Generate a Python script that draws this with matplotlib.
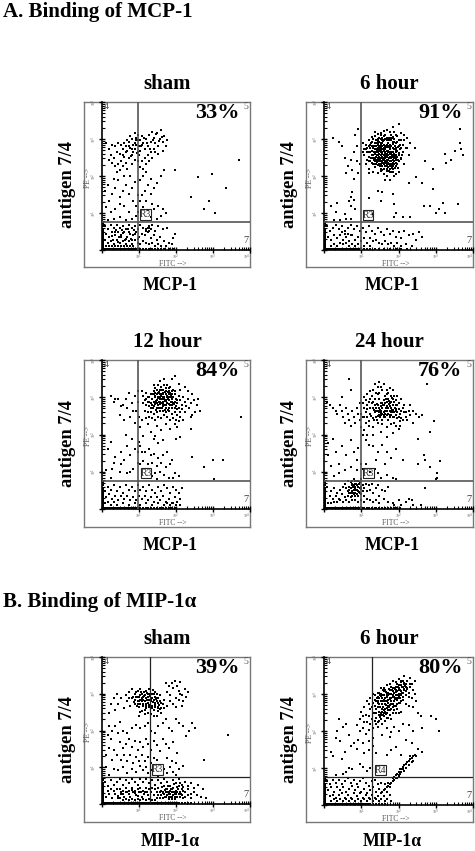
#!/usr/bin/env python3

import numpy as np
import matplotlib
matplotlib.use("Agg")
import matplotlib.pyplot as plt
from matplotlib.patches import Rectangle

plt.rcParams['font.family'] = ['Liberation Serif', 'DejaVu Serif']

W, H = 475, 851

# events, in display channels (0-100 on each axis)
mcp_sham = [
    (3,72),(5,68),(7,71),(9,70),(11,72),(13,71),(6,64),(8,62),(10,66),(12,65),(14,68),(16,70),(18,73),(20,75),(17,67),(19,69),
    (21,71),(23,74),(22,68),(15,63),(13,60),(11,58),(9,57),(7,59),(5,61),(16,59),(18,62),(20,64),(22,61),(24,66),(25,70),(26,74),
    (24,78),(22,79),(23,76),(27,77),(28,72),(29,68),(30,75),(31,70),(32,78),(33,73),(34,80),(35,76),(36,72),(37,79),(38,70),(39,75),
    (40,81),(41,73),(42,77),(43,70),(44,74),(35,68),(33,66),(31,64),(29,62),(27,60),(26,56),(28,55),(30,58),(34,62),(38,65),(41,67),
    (19,77),(17,74),(15,72),(21,66),(14,57),(12,54),(10,53),(17,55),(20,58),(25,64),(24,60),(26,67),(27,71),(25,74),(23,71),(36,66),
    (32,60),(30,53),(33,48),(28,50),(26,47),(31,44),(35,42),(29,40),(27,37),(33,38),(37,45),(40,50),(42,54),(26,33),(30,33),(34,31),
    (28,29),(31,27),(35,28),(38,30),(41,28),(43,25),(40,23),(37,21),(33,22),(22,46),(20,42),(18,38),(16,44),(14,40),(12,36),(9,42),
    (7,38),(5,33),(3,29),(6,26),(9,28),(12,31),(15,30),(18,26),(21,33),(23,30),(4,44),(2,40),(8,48),(11,47),(15,50),(19,50),(23,23),
    (20,21),(16,20),(12,22),(8,21),(4,20),(24,37),(24,26),
    (2,16),(4,14),(6,17),(8,15),(10,17),(12,15),(14,16),(16,14),(18,17),(20,15),(22,16),(24,14),(26,17),(28,15),(30,14),(32,16),
    (34,17),(36,13),(38,16),(41,14),(44,15),(3,11),(5,9),(7,12),(9,10),(11,12),(13,10),(15,12),(17,9),(19,11),(21,10),(23,12),
    (25,9),(27,11),(29,10),(31,12),(33,8),(35,10),(37,7),(39,9),(42,6),(45,5),(48,8),(2,7),(4,5),(6,6),(8,4),(10,7),(12,5),
    (14,6),(16,4),(18,6),(20,4),(22,7),(24,5),(26,4),(28,6),(30,5),(32,4),(34,5),(36,3),(38,4),(40,3),(43,3),(47,4),(3,3),(5,2.5),
    (7,3),(9,2.5),(11,3),(13,2.5),(15,3),(17,2.5),(19,3),(21,2.5),(30,13),(31,15),(32,13),(33,14),(32,15),(49,11),
    (92.5,61),(49,54),(65,49),(74,51.5),(84,42),(60,36),(72.5,33),(69,28),(76.5,25),
    # in between, the same two crowds
    (18.5,70.5),(20.5,68.5),(22.5,72.5),(24.5,74.5),(26.5,70.5),(16.5,66.5),(14.5,64.5),(19.5,63.5),(23.5,65.5),(28.5,75.5),(30.5,72.5),
    (32.5,68.5),(34.5,74.5),(36.5,78.5),(38.5,73.5),(40.5,76.5),(6.5,9.5),(8.5,12.5),(10.5,5.5),(12.5,8.5),(14.5,11.5),(16.5,7.5),
    (18.5,12.5),(20.5,6.5),(22.5,10.5),(24.5,7.5),(7.5,6.5),(9.5,13.5),(11.5,8.5),(13.5,13.5),(15.5,6.5),(17.5,14.5),(19.5,7.5),(21.5,13.5),
]
mcp_6h = [
    (26,72),(28,68),(30,74),(32,70),(34,77),(36,72),(38,79),(40,74),(42,81),(44,76),(46,83),(48,78),(50,85),(52,79),(54,74),(56,76),
    (58,72),(27,64),(29,61),(31,66),(33,62),(35,68),(37,63),(39,70),(41,65),(43,72),(45,66),(47,73),(49,67),(51,71),(53,66),(55,69),
    (57,64),(28,58),(30,55),(32,59),(34,56),(36,61),(38,57),(40,62),(42,58),(44,63),(46,59),(48,64),(50,60),(52,62),(54,58),(30,52),
    (33,53),(36,52),(39,54),(42,50),(45,53),(47,50),(50,53),(41,47),(44,47),(35,66),(36,66),(37,67),(38,66),(39,66),(40,67),(41,68),
    (42,67),(43,67),(44,68),(36,69),(37,70),(38,71),(39,72),(40,71),(41,70),(42,71),(43,70),(44,71),(45,70),(46,69),(47,68),(48,69),
    (35,63),(36,64),(37,65),(38,62),(39,63),(40,64),(41,62),(42,63),(43,64),(44,60),(45,62),(46,63),(47,62),(48,61),(36,60),(37,60),
    (38,60),(39,60),(40,59),(41,60),(42,60),(43,61),(44,58),(45,60),(46,57),(47,58),(48,57),(38,55),(40,55),(42,55),(44,55),(46,55),
    (39,57),(41,57),(43,56),(34,60),(33,64),(32,67),(31,69),(30,63),(29,66),(28,71),(32,73),(33,75),(34,72),(35,74),(36,75),(37,73),
    (38,75),(39,76),(40,77),(41,75),(42,76),(43,74),(44,74),(45,74),(46,73),(47,75),(48,72),(49,73),(50,74),(51,68),(52,69),(53,71),
    (35,70),(36,71),(37,68),(38,69),(39,68),(40,69),(41,66),(42,65),(43,66),(44,65),(45,65),(46,66),(47,65),(48,66),(49,63),(50,64),
    (34,65),(35,61),(36,62),(37,62),(38,64),(39,65),(40,61),(41,63),(42,61),(43,59),(44,62),(45,57),(46,61),(47,60),(48,59),(49,58),
    (37,58),(38,58),(39,59),(40,58),(41,59),(42,57),(43,58),(44,57),(45,58),(46,58),(35,58),(34,58),(33,58),(32,62),(31,60),(30,60),
    (52,74),(54,78),(56,69),(49,77),(47,80),(45,78),(43,76),(41,78),(39,74),(37,76),(35,72),(33,69),(31,71),(29,69),(27,68),(26,66),
    (22,70),(20,66),(18,61),(16,57),(14,62),(12,70),(10,73),(6,76),(21,78),(23,82),(22,60),(19,54),(15,52),(24,58),(23,52),(20,48),
    (19,39),(18,36),(20,34),(18,30),(21,28),(17,33),(9,32),(8,26),(5,30),(14,24),(11,20),(7,20),(15,21),(18,21),(30,35),(36,40),(39,39),
    (46,38),(47,31),(38,33),(48,25),(47,22),(33,24),(53,22),(58,22),(57,45),(62,49),(66,45),(73,41),(67,30),(80,32),(77,28),(81,25),(75,25),
    (71,30),(90,31),(88,67),(92,68),(91,72),(93,64),(85,61),(81,65),(68,60),(73,55),(61,69),(82,59),(91,82),
    (2,16),(4,13),(6,15),(8,17),(10,14),(12,16),(14,13),(16,15),(18,17),(20,14),(22,16),(24,13),(26,15),(28,12),(30,16),(32,13),(34,11),
    (36,15),(38,12),(40,10),(42,14),(44,11),(46,13),(48,9),(50,12),(52,8),(54,13),(57,10),(60,11),(62,7),(64,12),(66,9),(3,9),(5,7),
    (7,10),(9,8),(11,10),(13,7),(15,9),(17,6),(19,10),(21,7),(23,9),(25,6),(27,8),(29,5),(31,8),(33,6),(35,7),(37,5),(39,4),(41,6),
    (43,4),(45,5),(47,3),(49,5),(52,3),(55,4),(59,3),(12,12),(14,11),(16,11),(18,10),(15,5),(13,4),(11,5),(9,3),(7,4),(5,3),(17,3),
    (19,4),(21,3),(23,4),(27,2.5),(31,3),
    # the dark core of the cluster
    (30.5,66.5),(31.5,72.5),(32.5,64.5),(33.5,70.5),(34.5,62.5),(35.5,67.5),(36.5,73.5),(37.5,61.5),(38.5,67.5),(39.5,73.5),(40.5,62.5),
    (41.5,69.5),(42.5,74.5),(43.5,62.5),(44.5,69.5),(45.5,75.5),(46.5,64.5),(47.5,70.5),(48.5,62.5),(49.5,69.5),(50.5,65.5),(51.5,61.5),
    (33.5,60.5),(35.5,59.5),(37.5,56.5),(39.5,61.5),(41.5,58.5),(43.5,53.5),(45.5,55.5),(47.5,55.5),(49.5,55.5),(34.5,68.5),(36.5,67.5),
    (38.5,72.5),(40.5,68.5),(42.5,69.5),(44.5,66.5),(46.5,71.5),(48.5,67.5),(50.5,70.5),(52.5,64.5),(31.5,62.5),(33.5,66.5),(35.5,64.5),
    (37.5,69.5),(39.5,62.5),(41.5,64.5),(43.5,69.5),(45.5,63.5),(47.5,63.5),(49.5,60.5),(36.5,57.5),(38.5,53.5),(40.5,51.5),(42.5,53.5),
    (44.5,52.5),(46.5,52.5),(48.5,51.5),(30.5,70.5),(32.5,76.5),(34.5,79.5),(36.5,78.5),(38.5,77.5),(40.5,80.5),(44.5,79.5),(46.5,76.5),
]
mcp_12h = [
    (8,72),(6,76),(11,74),(14,70),(16,74),(18,78),(20,71),(22,76),(13,69),(17,68),(21,66),(24,72),(24,79),(23,66),(25,62),
    (27,79),(28,76),(29,73),(30,78),(31,75),(32,72),(33,77),(34,74),(35,79),(36,76),(37,73),(38,78),(39,75),(40,80),(41,77),(42,74),
    (43,79),(44,76),(45,81),(46,78),(47,75),(48,80),(49,77),(50,74),(51,71),(52,76),(53,73),(54,70),(55,75),(56,72),(57,69),(58,74),
    (59,68),(60,71),(62,73),(64,70),(66,66),(63,65),(61,63),(28,71),(30,70),(32,69),(34,70),(36,71),(38,70),(40,71),(42,70),(44,71),
    (46,70),(48,71),(50,69),(52,68),(54,67),(56,65),(35,77),(37,77),(39,77),(41,78),(43,77),(45,77),(47,77),(36,78),(38,75),(40,76),
    (42,75),(44,75),(46,75),(48,75),(37,80),(39,80),(41,80),(43,81),(45,79),(47,79),(49,79),(40,82),(42,83),(44,83),(46,82),(38,83),
    (36,81),(34,77),(32,75),(30,74),(31,72),(33,71),(35,72),(37,71),(39,72),(41,72),(43,73),(45,73),(47,72),(49,72),(51,73),(33,68),
    (35,69),(37,68),(39,68),(41,69),(43,68),(45,68),(47,68),(49,68),(51,67),(53,65),(29,66),(31,65),(33,65),(35,64),(37,65),(39,66),
    (41,66),(43,65),(45,66),(47,64),(49,65),(51,63),(53,62),(30,61),(32,62),(34,61),(36,60),(38,62),(40,61),(42,63),(44,62),(46,60),
    (48,61),(50,60),(52,59),(27,60),(31,57),(37,56),(43,57),(49,57),(55,60),(60,62),(65,74),(56,82),(52,84),(47,87),(42,87),(49,89),
    (58,79),(53,80),(61,77),(39,86),(35,83),(22,58),(19,62),(15,60),(12,63),(9,74),(26,55),(33,52),(28,49),(36,49),(40,53),(46,54),
    (38,44),(41,46),(35,47),(51,55),(50,47),(53,48),(60,54),(94,62),(82,33),(75,33),(69,28),(61,35),(76,20),(20,47),(25,45),(16,50),
    (22,40),(19,36),(17,42),(13,38),(9,35),(6,45),(4,40),(8,31),(13,30),(7,27),(3,26),(17,24),(19,25),(21,27),(12,25),(6,21),(15,33),
    (24,31),(24,38),(26,42),(29,38),(32,40),(35,37),(38,34),(41,36),(44,38),(47,33),(28,32),(31,30),(34,31),(37,29),(40,31),(43,28),
    (46,30),(49,24),(36,24),(39,25),(42,23),(45,21),(48,21),(52,22),(26,30),(34,22),(37,20),(27,38),(33,36),
    (2,12),(4,15),(6,13),(8,16),(10,12),(12,15),(14,11),(16,16),(18,13),(20,15),(22,12),(24,16),(26,13),(28,15),(30,12),(32,16),(34,13),
    (36,11),(38,15),(40,12),(42,16),(44,14),(46,11),(48,15),(50,13),(52,11),(54,14),(3,8),(5,10),(7,7),(9,9),(11,6),(13,9),(15,7),(17,9),
    (19,6),(21,8),(23,6),(25,9),(27,7),(29,9),(31,6),(33,8),(35,5),(37,8),(39,6),(41,9),(43,5),(45,7),(47,4),(49,8),(51,5),(53,7),
    (2,4),(4,5),(6,3),(8,5),(10,3),(14,4),(18,3),(22,4),(26,3),(30,4),(34,3),(38,4),(42,3),(44,4),(46,3),(48,4),(50,3),(53,3),
    # the dark core of the cluster
    (33.5,73.5),(35.5,75.5),(37.5,74.5),(39.5,73.5),(41.5,75.5),(43.5,72.5),(45.5,75.5),(47.5,73.5),(38.5,78.5),(40.5,77.5),(42.5,78.5),
    (44.5,78.5),(46.5,76.5),(36.5,72.5),(38.5,71.5),(40.5,73.5),(42.5,72.5),(44.5,73.5),(46.5,71.5),(48.5,70.5),(35.5,70.5),(37.5,69.5),
    (39.5,70.5),(41.5,70.5),(43.5,69.5),(45.5,70.5),(47.5,69.5),(34.5,67.5),(36.5,66.5),(38.5,67.5),(40.5,67.5),(42.5,66.5),(44.5,66.5),
]
mcp_24h = [
    (2,72),(4,70),(6,68),(8,66),(9,64),(11,70),(12,66),(13,62),(14,58),(15,68),(16,64),(17,60),(18,56),(19,66),(20,62),(21,58),(22,68),
    (23,64),(24,60),(24,71),(12,75),(17,87),(18,80),(26,71),(27,68),(28,65),(29,62),(30,59),(31,74),(32,71),(33,68),(34,65),(35,62),
    (36,77),(37,74),(38,71),(39,68),(40,65),(41,62),(42,77),(43,74),(44,71),(45,68),(46,65),(47,62),(48,73),(49,70),(50,67),(51,64),
    (52,61),(53,68),(54,65),(55,62),(56,60),(57,66),(58,63),(60,66),(62,64),(64,62),(28,73),(30,72),(32,76),(34,74),(36,70),(38,66),
    (40,70),(42,69),(44,66),(46,70),(48,67),(50,71),(52,66),(54,70),(27,62),(29,67),(31,64),(33,61),(35,66),(37,63),(39,60),(41,66),
    (43,60),(45,63),(47,58),(49,61),(51,59),(53,60),(55,65),(28,58),(30,56),(33,55),(36,58),(39,57),(42,55),(45,57),(48,56),(51,56),
    (37,68),(38,69),(39,71),(40,73),(41,71),(42,72),(43,68),(44,69),(45,72),(46,74),(47,72),(48,70),(36,66),(37,65),(38,63),(39,64),
    (40,63),(41,64),(42,63),(43,64),(44,63),(45,65),(46,62),(47,65),(48,63),(49,65),(50,62),(34,70),(35,68),(33,72),(31,68),(29,70),
    (26,62),(25,64),(27,75),(29,77),(31,79),(33,80),(35,78),(37,78),(39,80),(41,76),(43,78),(45,76),(47,76),(36,82),(38,82),(40,84),
    (42,80),(44,81),(37,85),(34,84),(46,80),(49,76),(52,74),(25,55),(27,53),(26,50),(29,50),(28,46),(33,50),(38,52),(42,48),(46,51),
    (58,70),(60,58),(71,52),(69,84),(74,59),(66,63),(50,54),(30,43),(33,42),(36,38),(39,43),(35,33),(41,30),(42,38),(48,40),(45,34),
    (53,33),(63,47),(67,36),(68,33),(63,30),(71,28),(78,32),(76,24),(76,21),(75,20),(68,14),(59,6),(57,7),(6,47),(8,38),(3,44),(12,42),
    (15,36),(18,46),(20,38),(22,33),(10,30),(5,29),(14,26),(18,28),(22,26),(10,24),(7,22),(3,36),(23,41),(26,27),(28,30),(31,25),(34,27),
    (36,24),(38,21),(42,23),(46,21),(48,20),(25,30),
    (14,17),(16,19),(17,15),(18,18),(19,16),(20,20),(21,17),(22,19),(23,15),(24,18),(25,20),(22,16),(21,14),(20,13),(19,12),(18,14),(17,11),
    (21,11),(22,13),(23,12),(24,14),(25,15),(26,16),(20,16),(19,19),(18,11),(17,13),(16,12),(15,14),(22,10),(21,9),(20,10),(19,9),(18,8),
    (23,9),(24,11),(25,10),(26,12),(27,14),(28,17),(30,16),(29,12),(31,13),(33,11),(32,17),(27,9),(35,14),(37,9),(39,13),(41,12),(43,15),(36,16),
    (2,15),(5,12),(7,14),(9,11),(11,13),(13,15),(4,9),(6,7),(8,9),(10,7),(12,10),(14,8),(16,9),(15,6),(13,5),(11,6),(9,5),(7,5),(5,4),(3,4),
    (17,5),(19,6),(21,6),(23,5),(25,6),(27,5),(29,7),(31,6),(33,5),(35,6),(37,4),(40,7),(43,5),(46,4),(50,6),(55,5),(47,3),(52,3),(60,3),(65,3),
    # the two cores
    (33.5,66.5),(35.5,70.5),(37.5,66.5),(39.5,69.5),(41.5,67.5),(43.5,70.5),(45.5,66.5),(47.5,67.5),(36.5,62.5),(38.5,64.5),(40.5,61.5),
    (42.5,65.5),(44.5,61.5),(46.5,66.5),(48.5,65.5),(31.5,62.5),(33.5,59.5),(35.5,59.5),(37.5,61.5),(41.5,73.5),(43.5,72.5),(45.5,74.5),
    (20.5,14.5),(21.5,16.5),(22.5,14.5),(23.5,16.5),(19.5,14.5),(20.5,18.5),(22.5,18.5),(24.5,13.5),(18.5,16.5),(21.5,12.5),(23.5,11.5),(19.5,10.5),
]
mip_sham = [
    (10,75),(13,72),(11,68),(15,65),(17,70),(19,67),(21,73),(23,76),(24,70),(25,66),(26,74),(27,70),(28,67),(29,64),(30,72),(31,69),
    (32,75),(33,71),(34,67),(35,64),(36,73),(37,70),(38,66),(39,74),(40,62),(18,76),(20,78),(22,71),(24,77),(26,78),(28,73),(30,77),
    (32,78),(34,75),(36,76),(38,72),(40,69),(42,71),(44,76),(46,74),(48,79),(50,72),(52,77),(54,74),(56,78),(43,82),(45,80),(47,82),
    (49,84),(51,80),(53,75),(55,70),(46,70),(48,68),(50,66),(52,71),(54,67),(44,67),(42,65),(57,73),(53,83),(58,76),(22,68),(23,73),
    (25,70),(26,71),(27,72),(28,71),(29,70),(30,68),(31,73),(32,71),(33,70),(34,72),(35,71),(36,69),(37,72),(38,69),(39,70),(27,75),
    (29,74),(31,75),(33,75),(35,75),(37,75),(25,73),(24,68),(26,68),(28,68),(30,65),(32,66),(34,65),(36,66),(38,63),(40,65),(41,68),
    (33,61),(29,61),(27,63),(35,60),(37,60),(25,60),(31,62),(20,72),(18,72),(16,74),(8,72),(6,68),(5,62),(9,64),(12,56),(5,53),(7,50),
    (9,53),(4,47),(6,44),(11,48),(14,50),(17,48),(20,52),(23,54),(26,52),(29,53),(31,55),(33,50),(36,48),(38,53),(41,55),(43,58),(45,52),
    (47,50),(50,58),(52,55),(55,53),(59,50),(61,55),(63,52),(57,46),(85,47),(69,30),(12,42),(14,38),(16,41),(18,44),(20,39),(22,43),
    (24,37),(26,42),(28,39),(30,44),(31,41),(33,37),(35,43),(37,40),(39,36),(41,44),(43,41),(45,38),(48,42),(51,35),(8,37),(5,38),(3,33),
    (7,30),(10,33),(13,30),(15,33),(17,29),(19,33),(21,28),(23,32),(25,29),(27,33),(29,29),(31,32),(33,28),(35,31),(37,30),(44,31),(47,29),
    (50,28),(46,25),(48,22),(52,24),(55,26),(42,24),(8,24),(11,23),(14,25),(17,21),(20,24),(23,22),(26,26),(28,23),(30,25),(31,21),(33,23),
    (5,20),(3,25),(38,19),(44,21),(50,20),
    (2,15),(4,12),(6,16),(8,13),(10,15),(12,17),(14,13),(16,16),(18,14),(20,17),(22,15),(24,13),(26,17),(28,15),(30,17),(32,14),(34,16),(36,13),
    (38,16),(40,14),(42,17),(44,15),(46,12),(48,16),(50,14),(52,17),(54,13),(56,15),(58,12),(60,14),(62,11),(65,13),(68,10),(36,10),(38,11),(40,9),
    (42,12),(44,10),(46,9),(48,11),(50,9),(52,12),(54,10),(56,8),(58,10),(60,7),(62,8),(64,6),(67,5),(70,4),(38,6),(40,6),(42,7),(44,6),(46,7),
    (48,6),(50,7),(52,7),(54,6),(56,5),(58,6),(60,4),(41,8),(43,8),(45,8),(47,8),(49,8),(51,8),(53,8),(55,9),(39,8),(37,8),(43,5),(45,5),(47,5),(49,5),
    (51,5),(53,5),(55,4),(41,4),(39,4),(37,4),(35,6),(33,8),(31,6),(29,8),(27,5),(25,8),(23,6),(21,8),(19,5),(17,8),(15,5),(13,7),(11,4),(9,7),(7,4),
    (5,7),(3,5),(4,9),(6,10),(8,9),(10,10),(12,10),(14,9),(16,11),(18,9),(20,11),(22,9),(24,10),(26,11),(28,9),(30,11),(32,10),(34,11),
    (12,4),(14,3),(16,3.5),(18,3),(20,3.5),(22,3),(24,3.5),(26,3),(28,3.5),(30,3),(32,3.5),(34,3),(36,3),
    # the two dark patches
    (26.5,70.5),(28.5,73.5),(30.5,70.5),(32.5,73.5),(34.5,69.5),(36.5,71.5),(38.5,67.5),(27.5,67.5),(29.5,66.5),(31.5,67.5),(33.5,65.5),
    (35.5,67.5),(37.5,65.5),(24.5,72.5),(22.5,74.5),(26.5,76.5),(28.5,76.5),(30.5,75.5),(34.5,77.5),(21.5,69.5),(23.5,66.5),(25.5,62.5),(39.5,64.5),
    (41.5,7.5),(43.5,10.5),(45.5,6.5),(47.5,10.5),(49.5,6.5),(51.5,10.5),(53.5,6.5),(42.5,4.5),(44.5,8.5),(46.5,4.5),(48.5,8.5),(50.5,4.5),
    (52.5,8.5),(40.5,11.5),(42.5,9.5),(44.5,12.5),(46.5,10.5),(48.5,13.5),(50.5,11.5),(52.5,14.5),(54.5,11.5),(45.5,3.5),(47.5,3.5),(49.5,3.5),
    (8.5,6.5),(10.5,5.5),(12.5,8.5),(14.5,6.5),(16.5,8.5),(18.5,6.5),(20.5,9.5),(22.5,7.5),(24.5,5.5),(26.5,8.5),(28.5,6.5),(30.5,8.5),
]
mip_6h = [
    (31,72),(33,75),(35,70),(37,76),(39,72),(41,78),(43,74),(45,80),(47,76),(49,82),(51,78),(53,84),(55,80),(57,76),(59,82),(56,84),(54,87),
    (58,86),(52,81),(50,85),(48,80),(46,84),(44,78),(42,81),(40,74),(38,79),(36,73),(34,67),(33,62),(35,62),(37,66),(39,68),(41,70),(43,71),
    (45,72),(47,73),(49,74),(51,75),(53,76),(55,77),(57,73),(35,59),(37,61),(39,63),(41,65),(43,67),(45,68),(47,70),(49,71),(51,72),(53,73),
    (36,56),(38,58),(40,60),(42,62),(44,64),(46,66),(48,67),(50,69),(52,70),(30,68),(32,66),(34,71),(36,76),(38,70),(40,77),(42,73),(44,75),
    (46,77),(48,78),(50,79),(52,77),(54,78),(56,79),(58,80),(60,78),(61,84),(37,72),(39,74),(41,72),(43,76),(45,75),(47,79),(49,77),(51,81),
    (53,80),(55,82),(37,68),(39,70),(41,68),(43,69),(45,70),(47,67),(49,68),(51,69),(53,71),(55,74),(35,65),(37,63),(39,65),(41,63),(43,64),
    (45,65),(47,64),(49,65),(38,61),(40,62),(42,59),(44,61),(46,62),(36,69),(34,74),(40,79),(42,76),(44,82),(46,79),(48,83),(50,81),(52,83),
    (54,82),(44,72),(46,73),(48,74),(50,75),(52,74),(42,70),(40,71),(38,75),(36,72),(33,69),(31,65),(29,70),(27,66),(28,61),(26,60),(30,60),
    (32,58),(34,57),(31,55),(29,56),(35,55),(37,57),(39,55),(36,53),(33,52),(30,51),(27,56),(25,63),(24,58),(22,54),(24,50),(26,52),(28,48),
    (41,57),(43,59),(45,58),(48,62),(50,62),(52,63),(55,68),(57,67),(59,72),(60,66),(62,70),(63,62),(65,60),(66,52),(72,60),(75,58),(77,50),
    (61,75),(60,50),(57,54),(53,55),(50,50),(47,53),(45,49),(42,52),(39,47),(44,46),(55,44),(59,42),(63,38),(66,36),(10,58),(9,50),(13,53),
    (15,55),(8,45),(11,43),(17,47),(20,42),(23,44),(26,42),(30,43),(33,40),(30,37),(35,35),(33,45),(27,35),(22,38),(18,40),(14,36),(6,33),
    (12,31),(24,28),(26,26),(17,25),(15,22),(13,21),(19,24),(29,23),(31,25),(8,20),(5,36),(42,34),(45,37),(48,39),(52,34),(58,33),(60,30),
    # rising edge of the side population
    (47,19),(48,20),(49,21),(50,22),(51,24),(52,24),(53,26),(54,27),(55,28),(56,29),(57,30),(58,31),(59,32),(60,33),(61,34),(62,33),(50,19),
    (46,18),(47,17),(48,18),(49,18),(50,20),(52,22),(54,23),(55,25),(57,27),(59,29),(53,24),(51,21),(46,16),(45,15),(44,14),(43,13),(42,12),
    (41,11),(40,10),(39,9),(38,8),(41,14),(43,15),(44,12),(42,9),
    (2,16),(4,14),(6,17),(8,15),(10,17),(12,14),(14,16),(16,18),(18,15),(20,17),(22,14),(24,16),(26,18),(28,15),(30,13),(32,16),(34,17),(36,14),
    (38,15),(3,10),(5,12),(7,9),(9,12),(11,10),(13,12),(15,9),(17,11),(19,13),(21,10),(23,12),(25,9),(27,11),(29,8),(31,10),(33,12),(35,9),
    (37,11),(4,6),(6,7),(8,5),(10,7),(12,8),(14,5),(16,7),(18,5),(20,8),(22,6),(24,8),(26,5),(28,7),(30,5),(32,7),(34,5),(36,6),(38,4),(40,6),
    (42,4),(44,7),(5,3),(7,4),(9,3),(11,4),(13,3),(15,4),(17,3),(19,4),(21,3),(23,4),(25,3),(27,4),(29,3),(31,4),(33,3),(35,4),(37,3),(41,3),(45,3),
    # the dark core of the cluster
    (36.5,70.5),(38.5,73.5),(40.5,70.5),(42.5,74.5),(44.5,71.5),(46.5,74.5),(48.5,76.5),(50.5,77.5),(52.5,79.5),(54.5,80.5),(37.5,66.5),
    (39.5,66.5),(41.5,67.5),(43.5,66.5),(45.5,68.5),(47.5,71.5),(49.5,72.5),(51.5,74.5),(53.5,78.5),(38.5,62.5),(40.5,64.5),(42.5,65.5),
    (44.5,67.5),(46.5,68.5),(48.5,72.5),(50.5,73.5),(52.5,75.5),(55.5,78.5),(41.5,76.5),(43.5,78.5),(45.5,77.5),(47.5,78.5),(49.5,79.5),
    (51.5,83.5),(53.5,82.5),(36.5,66.5),(37.5,59.5),(39.5,60.5),(41.5,61.5),(34.5,62.5),(35.5,72.5),(37.5,74.5),(39.5,77.5),(57.5,81.5),
]

# pile-up of events on the two axes
mcp_sham_floor = [0.5*i for i in range(0, 50)] + [26,28,30,32,34,36,38,40,42,45,48]
mcp_6h_floor = [0.5*i for i in range(0, 50)] + [25,27,29,31,34,37,40,44,48,52,56]
mcp_12h_floor = [0.5*i for i in range(0, 50)] + [25,26,28,30,31,33,35,37,39,41,43,45,47,49]
mcp_24h_floor = [0.5*i for i in range(0, 50)] + [25,26,27,29,30,32,34,35,37,39,41,43,45,47,49,51]
mip_sham_floor = [0.5*i for i in range(0, 50)] + [25,26,27,28,29,30,31,32,33,34,35,36,37,38,39,40,41,42,43,44,45,46,47,48,49,50,51,52,54,56,58,60]
mip_6h_floor = [0.5*i for i in range(0, 50)] + [25,26,27,28,29,30,31,33,35,37,39,41]
wall_y = [0.5,1,1.5,2,2.5,3,3.5,4,4.5,5,5.5,6,6.5,7,7.5,8,9,10,11,12,13,14,16,18]

titles = ["sham", "6 hour", "12 hour", "24 hour", "sham", "6 hour"]
percents = ["33%", "91%", "84%", "76%", "39%", "80%"]
xlabels = ["MCP-1", "MCP-1", "MCP-1", "MCP-1", "MIP-1\u03b1", "MIP-1\u03b1"]
gate_labels = ["R3", "R3", "R3", "R3", "R3", "R4"]
gate_x = [24.4, 24.7, 24.4, 24.7, 32.7, 32.5]
gate_y = [18.6, 18.9, 18.8, 18.8, 18.7, 18.9]
region_x = [26.0, 26.2, 26.4, 26.4, 34.0, 34.3]
region_y = [20.5, 20.0, 20.6, 20.6, 19.9, 20.2]
events = [mcp_sham, mcp_6h, mcp_12h, mcp_24h, mip_sham, mip_6h]
floors = [mcp_sham_floor, mcp_6h_floor, mcp_12h_floor, mcp_24h_floor, mip_sham_floor, mip_6h_floor]

# frame left, top, right, bottom, then the plot origin, in pixels
frames = [(84, 102, 250, 267, 102, 250), (306, 102, 473, 267, 324, 250),
          (84, 360, 250, 527, 102, 509), (306, 360, 473, 527, 324, 509),
          (84, 657, 250, 822, 102, 804), (306, 657, 473, 822, 324, 805)]
gate_colors = ["#555555", "#555555", "#555555", "#555555", "#222222", "#222222"]


def px_axes(fig, left, top, right, bottom):
    return fig.add_axes([left / W, 1 - bottom / H, (right - left) / W, (bottom - top) / H])


def decade_ticks():
    major = [25 * d for d in range(5)]
    minor = [25 * (d + np.log10(m)) for d in range(4) for m in range(2, 10)]
    return major, minor


def draw_panel(fig, i):
    left, top, right, bottom, ox, oy = frames[i]
    cx = (left + right) / 2

    frame = px_axes(fig, left, top, right, bottom)
    frame.set_xticks([])
    frame.set_yticks([])
    frame.patch.set_alpha(0)
    for s in frame.spines.values():
        s.set_color("#777777")
        s.set_linewidth(1.0)

    ax = px_axes(fig, ox, top, right, oy)
    ax.set_xlim(0, 100)
    ax.set_ylim(0, 100)
    ax.patch.set_alpha(0)
    ax.spines["top"].set_visible(False)
    ax.spines["right"].set_visible(False)
    ax.spines["left"].set_linewidth(1.2)
    ax.spines["bottom"].set_linewidth(1.2)

    major, minor = decade_ticks()
    ax.set_xticks(major)
    ax.set_xticks(minor, minor=True)
    ax.set_yticks(major)
    ax.set_yticks(minor, minor=True)
    ax.tick_params(which="major", direction="inout", length=4, width=1.0, labelsize=2.8,
                   labelcolor="#666666", pad=0)
    ax.tick_params(which="minor", direction="in", length=2.5, width=0.8)
    tick_text = ["", "10$^1$", "10$^2$", "10$^3$", "10$^4$"]
    ax.set_xticklabels(tick_text)
    ax.set_yticklabels(tick_text, rotation=90, va="center")
    # last one would run past the frame
    ax.get_xticklabels()[-1].set_ha("right")

    pts = np.array(events[i], dtype=float)
    ax.scatter(pts[:, 0], pts[:, 1], s=1.1, c="black", marker="s", linewidths=0, clip_on=False, zorder=3)
    fl = np.array(floors[i], dtype=float)
    ax.scatter(fl, np.full(len(fl), 0.9), s=4, c="black", marker="s", linewidths=0, zorder=3)
    wy = np.array(wall_y, dtype=float)
    ax.scatter(np.full(len(wy), 0.9), wy, s=3, c="black", marker="s", linewidths=0, zorder=3)

    lw = 1.2 if i < 4 else 0.9
    ax.axvline(gate_x[i], color=gate_colors[i], lw=lw, zorder=4)
    ax.axhline(gate_y[i], color=gate_colors[i], lw=lw, zorder=4)
    ax.add_patch(Rectangle((region_x[i], region_y[i]), 7, 7, fill=False, ec="#222222", lw=0.8, zorder=5))
    ax.text(region_x[i] + 3.5, region_y[i] + 3.3, gate_labels[i], fontsize=7, color="#333333",
            ha="center", va="center", zorder=5)

    # quadrant numbers
    ax.text(1.5, 97, "4", fontsize=7, color="#555555", va="center")
    ax.text(99, 97, "5", fontsize=7, color="#555555", ha="right", va="center")
    ax.text(99, 3.5, "7", fontsize=7.5, color="#444444", ha="right", va="bottom")

    ax.text(93, 99, percents[i], fontsize=16, fontweight="bold", ha="right", va="top")
    ax.set_xlabel("FITC -->", fontsize=5.5, color="#555555", va="center")
    ax.set_ylabel("PE -->", fontsize=5.5, color="#555555", va="center")
    ax.xaxis.set_label_coords(0.48, -0.092)
    ax.yaxis.set_label_coords(-0.095, 0.49)

    fig.text(cx / W, 1 - (top - 18) / H, titles[i], fontsize=15, fontweight="bold", ha="center", va="center")
    fig.text((cx + 3) / W, 1 - (bottom + 19) / H, xlabels[i], fontsize=12.8, fontweight="bold", ha="center", va="center")
    fig.text((left - 17) / W, 1 - ((top + bottom) / 2) / H, "antigen 7/4", fontsize=13.3, fontweight="bold",
             rotation=90, ha="center", va="center")


def main():
    fig = plt.figure(figsize=(W / 100, H / 100), dpi=100)
    fig.text(3 / W, 1 - 12 / H, "A. Binding of MCP-1", fontsize=15.1, fontweight="bold", va="center")
    fig.text(3 / W, 1 - 602 / H, "B. Binding of MIP-1\u03b1", fontsize=15.1, fontweight="bold", va="center")
    for i in range(6):
        draw_panel(fig, i)
    fig.savefig("out.png", dpi=100)
    plt.close(fig)


if __name__ == "__main__":
    main()
